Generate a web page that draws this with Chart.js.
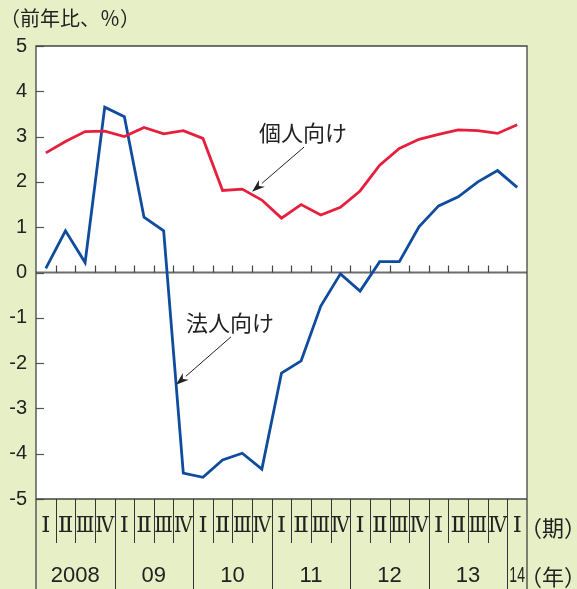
<!DOCTYPE html>
<html><head><meta charset="utf-8">
<script src="https://cdn.jsdelivr.net/npm/chart.js@4"></script>
<style>html,body{margin:0;padding:0;background:#e6efc5;overflow:hidden}#wrap{width:577px;height:589px;position:relative}</style>
</head><body><div id="wrap"><canvas id="c" width="577" height="589"></canvas></div>
<script>
// ---- data ----
const quarterNames = ['Ⅰ','Ⅱ','Ⅲ','Ⅳ'];
const years = ['2008','09','10','11','12','13','14'];
const yearSpans = [4,4,4,4,4,4,1];
const categories = [];
years.forEach((y,yi)=>{ for(let q=0;q<yearSpans[yi];q++) categories.push(y+' '+quarterNames[q]); });
const quarterLabels = categories.map(c=>c.split(' ')[1]);
const personal = [2.64,2.89,3.11,3.12,3.00,3.20,3.06,3.13,2.96,1.81,1.84,1.60,1.20,1.50,1.27,1.44,1.80,2.37,2.74,2.94,3.05,3.15,3.13,3.07,3.26];
const corporate = [0.09,0.92,0.22,3.65,3.44,1.22,0.92,-4.43,-4.52,-4.14,-3.99,-4.34,-2.22,-1.95,-0.74,-0.03,-0.41,0.24,0.24,1.01,1.47,1.67,2.00,2.25,1.88];
const yMin = -5, yMax = 5, yStep = 1;
const seriesNames = ['個人向け','法人向け'];
// annotation anchors in data space: [text index, text value, arrow start index, start value, tip index, tip value]
const notePersonal = [13.1, 3.08, 13.15, 2.77, 10.5, 1.78];
const noteCorporate = [9.38, -1.11, 9.43, -1.42, 6.63, -2.48];

const RED = '#e61f3d', BLUE = '#0f4c9e', GREEN = '#e6efc5', INK = '#222';
const JP = '"Noto Sans CJK JP", "Noto Sans CJK SC", sans-serif';
const NUM = '"Liberation Sans", Arial, sans-serif';
const ROMAN = '"DejaVu Serif", "Liberation Serif", serif';

function arrow(ctx, x1, y1, x2, y2){
  ctx.save();
  ctx.strokeStyle = INK; ctx.fillStyle = INK; ctx.lineWidth = 1;
  const ang = Math.atan2(y2-y1, x2-x1), L = 13, W = 4.5;
  const bx = x2 - L*Math.cos(ang), by = y2 - L*Math.sin(ang);
  ctx.beginPath(); ctx.moveTo(x1,y1); ctx.lineTo(bx,by); ctx.stroke();
  ctx.beginPath();
  ctx.moveTo(x2,y2);
  ctx.lineTo(bx + W*Math.sin(ang), by - W*Math.cos(ang));
  ctx.lineTo(bx + 4*Math.cos(ang), by + 4*Math.sin(ang));
  ctx.lineTo(bx - W*Math.sin(ang), by + W*Math.cos(ang));
  ctx.closePath(); ctx.fill();
  ctx.restore();
}

const deco = {
  id: 'deco',
  beforeDraw(chart){
    const {ctx, chartArea:a} = chart;
    ctx.save(); ctx.fillStyle = '#fff';
    ctx.fillRect(a.left, a.top, a.right-a.left, a.bottom-a.top);
    ctx.restore();
  },
  beforeDatasetsDraw(chart){
    const {ctx, chartArea:a, scales:{x,y}} = chart;
    const n = categories.length, cw = (a.right-a.left)/n;
    const y0 = y.getPixelForValue(0);
    ctx.save();
    ctx.strokeStyle = '#6d6d6d'; ctx.lineWidth = 2;
    ctx.beginPath(); ctx.moveTo(a.left, y0); ctx.lineTo(a.right, y0); ctx.stroke();
    ctx.lineWidth = 1.2; ctx.strokeStyle = '#444';
    for(let i=1;i<n;i++){
      const bx = Math.round(x.getPixelForValue(i) - cw/2) + 0.5;
      ctx.beginPath(); ctx.moveTo(bx, y0); ctx.lineTo(bx, y0-7); ctx.stroke();
    }
    // y inward ticks
    ctx.strokeStyle = '#555'; ctx.lineWidth = 1.2;
    for(let v=yMin; v<=yMax; v+=yStep){
      const py = Math.round(y.getPixelForValue(v)) + 0.5;
      ctx.beginPath(); ctx.moveTo(a.left, py); ctx.lineTo(a.left+8, py); ctx.stroke();
    }
    ctx.restore();
  },
  afterDraw(chart){
    const {ctx, chartArea:a, scales:{x,y}} = chart;
    const n = categories.length, cw = (a.right-a.left)/n;
    const H = chart.height;
    const rowSplit = a.bottom + 44;
    ctx.save();
    // plot frame
    ctx.strokeStyle = '#444'; ctx.lineWidth = 1.3;
    ctx.beginPath();
    ctx.moveTo(a.left, H); ctx.lineTo(a.left, a.top); ctx.lineTo(a.right, a.top); ctx.lineTo(a.right, H);
    ctx.moveTo(a.left, a.bottom); ctx.lineTo(a.right, a.bottom);
    ctx.stroke();
    // bottom table
    ctx.lineWidth = 1; ctx.strokeStyle = '#333';
    for(let i=1;i<n;i++){
      const bx = Math.round(x.getPixelForValue(i) - cw/2) + 0.5;
      const yearStart = (i % 4 === 0);
      ctx.beginPath(); ctx.moveTo(bx, a.bottom); ctx.lineTo(bx, yearStart ? H : rowSplit); ctx.stroke();
    }
    ctx.fillStyle = INK; ctx.textAlign = 'center'; ctx.textBaseline = 'middle';
    ctx.font = '23px ' + ROMAN;
    for(let i=0;i<n;i++){
      ctx.fillText(quarterLabels[i], x.getPixelForValue(i), a.bottom + 27, cw - 1);
    }
    ctx.font = '22px ' + NUM;
    let start = 0;
    years.forEach((yr, yi)=>{
      const span = yearSpans[yi];
      const cx = (x.getPixelForValue(start) + x.getPixelForValue(start+span-1))/2;
      ctx.fillText(yr, cx, H - 13, span*cw - 4);
      start += span;
    });
    ctx.font = '22px ' + JP;
    ctx.fillText('（期）', a.right + 26, a.bottom + 29);
    ctx.fillText('（年）', a.right + 26, H - 12);
    // title
    ctx.textAlign = 'left';
    ctx.font = '20px ' + JP;
    ctx.fillText('（前年比、％）', 0, 18);
    // annotations
    const notes = [[seriesNames[0], notePersonal],[seriesNames[1], noteCorporate]];
    ctx.textAlign = 'center'; ctx.font = '22px ' + JP;
    notes.forEach(([t, p])=>{
      const X = i => a.left + (i + 0.5)*cw;
      ctx.fillStyle = INK;
      ctx.fillText(t, X(p[0]), y.getPixelForValue(p[1]));
      arrow(ctx, X(p[2]), y.getPixelForValue(p[3]), X(p[4]), y.getPixelForValue(p[5]));
    });
    ctx.restore();
  }
};

new Chart(document.getElementById('c'), {
  type: 'line',
  data: {
    labels: categories,
    datasets: [
      {label: seriesNames[0], data: personal, borderColor: RED, borderWidth: 2.8, pointRadius: 0, tension: 0, fill: false},
      {label: seriesNames[1], data: corporate, borderColor: BLUE, borderWidth: 2.8, pointRadius: 0, tension: 0, fill: false}
    ]
  },
  options: {
    responsive: false, animation: false, devicePixelRatio: 1,
    layout: {padding: {top: 46, right: 50, bottom: 90, left: 0}},
    plugins: {legend: {display: false}, tooltip: {enabled: false}, title: {display: false}},
    scales: {
      x: {type: 'category', offset: true, display: false, grid: {display: false}},
      y: {
        min: yMin, max: yMax,
        afterFit(s){ s.width = 36; },
        grid: {display: false, drawTicks: false},
        border: {display: false},
        ticks: {stepSize: yStep, padding: 9, color: INK, font: {size: 20, family: NUM}}
      }
    }
  },
  plugins: [deco]
});
</script>
</body></html>
